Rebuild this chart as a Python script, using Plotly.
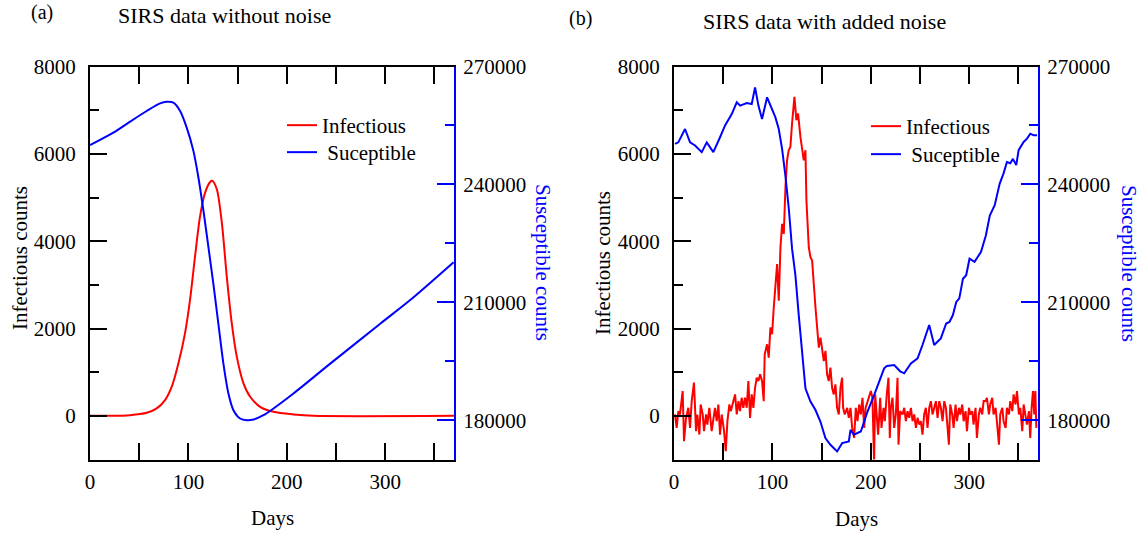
import plotly.graph_objects as go

# ---------------- data ----------------
# Panel (a): SIRS data without noise
inf_days_a = [0, 17, 40.7, 57.6, 67.8, 76.3, 83.1, 89.9, 96.6, 101.7, 106.8, 111.9, 117, 122.1,
              124.4, 128.9, 134, 139, 144.1, 149.2, 156, 162.8, 172.9, 186.5, 206.8, 227, 370]
inf_a = [0, 0, 16, 69, 170, 361, 667, 1205, 1894, 2660, 3655, 4575, 5113, 5356,
         5380, 5189, 4423, 3195, 2124, 1356, 745, 437, 207, 92, 31, 0, 0]

sus_days_a = [0, 23.7, 40.7, 57.6, 71.2, 78, 84.8, 91.6, 98.3, 105.1, 110.2, 115.3, 120.4, 125.4,
              130.5, 135.6, 140.7, 145.8, 152.6, 159.4, 166.2, 176.3, 186.5, 206.8, 244.2, 295,
              328.9, 369.6]
sus_a = [250000, 253170, 255970, 258680, 260630, 261040, 260790, 258680, 254440, 248530, 241750,
         233300, 223980, 214690, 204540, 194390, 186780, 182540, 180430, 180000, 180170, 181270,
         182970, 186780, 194390, 204540, 211290, 220180]

# Panel (b): SIRS data with added noise
inf_days_b = [1.0, 2.7, 4.4, 6.1, 8.8, 10.2, 12.2, 14.6, 16.3, 18.0, 20.3, 22.4, 23.7, 25.8, 27.1,
              29.2, 30.5, 32.6, 33.9, 35.9, 38.3, 40.0, 41.7, 43.4, 45.1, 46.8, 48.5, 50.9, 52.6,
              54.3, 56.3, 57.7, 59.7, 62.1, 63.8, 65.5, 67.1, 68.8, 70.5, 72.2, 73.9, 75.6, 77.3,
              79.0, 80.7, 82.4, 84.1, 85.8, 87.5,
              89.5, 91.2, 92.2, 94.6, 96.3, 98.0, 99.7, 101.4, 103.1, 104.8, 106.5, 108.2, 109.9,
              111.6, 113.3, 114.9, 116.6, 118.3, 120.0, 122.4, 124.4, 126.1, 128.5, 130.2, 131.9,
              133.6, 134.6, 137.0, 138.7, 140.4, 142.1, 143.8, 145.5, 147.2, 148.9, 150.6, 152.3,
              154.0, 155.6, 157.3, 159.0, 160.7, 162.4, 164.1, 165.8, 167.5, 169.2, 170.9, 171.9,
              173.6, 176.0, 177.7, 179.4, 181.1,
              183.1, 184.8, 186.5, 188.2, 189.9, 191.6, 193.3, 194.8, 196.7, 198.4, 200.1, 201.7,
              203.4, 204.5, 206.2, 207.5, 209.6, 210.9, 213.0, 214.3, 216.3, 218.0, 219.4, 220.4,
              222.1, 223.8, 225.5, 227.2, 228.2, 229.9, 232.3, 234.0, 235.7, 237.4, 239.1, 240.8,
              242.5, 244.2, 245.9, 247.6, 249.3, 250.9, 252.6, 254.3, 256.0, 257.7, 259.4, 261.1,
              262.8, 264.5, 266.2, 267.9, 269.6, 271.3, 273.0, 274.7, 276.4, 278.1,
              279.4, 280.8, 282.8, 284.2, 286.2, 287.6, 289.6, 291.0, 293.0, 294.4, 296.4, 297.8,
              299.8, 301.1, 303.2, 304.5, 306.5, 307.9, 309.9, 311.3, 313.3, 314.7, 316.7, 318.1,
              320.1, 321.4, 323.5, 324.8, 326.9, 328.2, 330.3, 331.6, 333.7, 335.0, 337.1, 338.4,
              340.5, 341.8, 343.9, 345.2, 347.2, 348.6, 350.6, 352.0, 354.0, 355.4, 357.4, 358.8,
              360.8, 362.1, 363.5, 364.9, 366.2, 367.3, 368.3]
inf_b = [31, -276, 107, 31, 567, -582, -46, 184, -276, 337, 760, -352, 31, -429, 260,
         31, -352, 31, -199, 184, -352, -46, 184, -123, 260, -429, 31, -352, -812,
         -123, 260, 107, 260, 490, 31, 337, 107, 414, 184, 414, 184, 797, -46,
         490, 184, 643, 873, 797, 950,
         797, 337, 1409, 1639, 1333, 2022, 1869, 2482, 2941, 3478, 2635, 3861, 4397,
         4167, 5239, 5852, 6082, 6159, 6695, 7308, 6771, 6925, 6388, 6082, 5852,
         6082, 4933, 3861, 3631, 3554, 2865, 2482, 2022, 1563, 1792, 1486, 1256,
         1486, 950, 797, 1103, 643, 490, 720, 184, 31, 643, 873, 184,
         31, 184, -46, 184, -276,
         -506, 184, -123, 260, 31, 414, -276, 184, 337, 490, 567, 414,
         -1042, 490, 31, -429, 414, -276, 184, -123, 490, 873, -506, 184,
         414, -276, 31, 873, -659, 107, 31, 184, -123, 107, -46, 184,
         -123, 31, -276, -46, -199, -123, -429, 31, 184, -276, 184, 337,
         31, 184, 337, -46, 337, 184, -123, 337, 184, -276,
         -659, 260, 31, -276, 260, -123, 184, 31, 260, -123, 107, -352,
         184, 31, 107, -199, 184, -506, 31, 184, 31, 337, 337, 414,
         31, 260, 414, 31, 184, -123, -659, 31, 184, -123, -276, 184,
         31, 337, 107, 490, 260, 567, 31, 184, -352, 260, 31, -199,
         107, -506, 184, 567, 31, 567, -276]

sus_days_b = [1.0, 4.4, 11.2, 16.3, 21.4, 28.2, 33.3, 40.0, 46.8, 51.9, 58.7, 63.8, 67.2, 74.0,
              79.0, 82.4, 85.8, 89.5, 94.6, 99.7, 103.0, 106.5, 109.9, 113.2, 116.7, 120.0, 123.4,
              126.8, 130.2, 133.6, 138.7, 143.7, 148.8, 153.9, 159.0, 165.8, 170.9, 177.7, 179.4,
              182.8, 189.9, 196.7, 203.5, 208.5, 213.6, 216.4, 223.8, 229.9, 234.0, 240.8, 247.6,
              252.6, 259.4, 264.5, 271.2, 276.7, 280.0, 283.5, 286.9, 290.0, 293.7, 297.0, 300.4,
              305.5, 312.0, 317.0, 321.0, 326.0, 331.0, 335.0, 338.4, 341.8, 344.5, 347.9, 350.3,
              355.4, 358.8, 362.2, 365.6, 369.0]
sus_b = [250300, 250700, 254100, 250700, 249900, 248200, 250700, 248200, 252000, 255000, 257900,
         260900, 260050, 260700, 260450, 264700, 260050, 256650, 262150, 259190, 257100, 254100,
         249000, 242300, 233800, 223650, 216900, 206750, 198270, 188100, 184750, 182640, 179670,
         175430, 173750, 172060, 174160, 174590, 177560, 176300, 177130, 182200, 186450, 189800,
         193200, 193800, 194060, 192440, 191930, 194470, 195740, 199140, 204210, 199140, 200800,
         204600, 205000, 206750, 210100, 211000, 216000, 216900, 221100, 220300, 222800, 227000,
         232100, 234700, 240150, 242800, 245700, 245400, 246500, 244900, 248700, 250800, 251650,
         252900, 252500, 252500]

# ---------------- figure ----------------
W, H = 1148, 536
FONT = "Liberation Serif, Times New Roman, serif"
RED, BLUE = "#FF0000", "#0000FF"


def px(x):
    return x / W


def py(y):
    return (H - y) / H


fig = go.Figure()
fig.add_trace(go.Scatter(x=inf_days_a, y=inf_a, mode="lines", name="Infectious",
                         line=dict(color=RED, width=2, shape="spline", smoothing=0.8),
                         xaxis="x", yaxis="y", legend="legend"))
fig.add_trace(go.Scatter(x=sus_days_a, y=sus_a, mode="lines", name="\u00a0Suceptible",
                         line=dict(color=BLUE, width=2, shape="spline", smoothing=0.8),
                         xaxis="x", yaxis="y2", legend="legend2"))
fig.add_trace(go.Scatter(x=inf_days_b, y=inf_b, mode="lines", name="Infectious",
                         line=dict(color=RED, width=2),
                         xaxis="x2", yaxis="y3", legend="legend3"))
fig.add_trace(go.Scatter(x=sus_days_b, y=sus_b, mode="lines", name="\u00a0Suceptible",
                         line=dict(color=BLUE, width=2),
                         xaxis="x2", yaxis="y4", legend="legend4"))

tickfont = dict(family=FONT, size=21, color="black")
ydom = [py(459.5), py(66.5)]


def xaxis(dom, anchor):
    return dict(domain=dom, anchor=anchor, range=[0, 370], tick0=0, dtick=100,
                ticks="inside", ticklen=17, tickwidth=2, tickcolor="black",
                showline=True, linecolor="black", linewidth=2, mirror="allticks",
                minor=dict(dtick=50, ticks="inside", ticklen=9, tickwidth=2, tickcolor="black"),
                showgrid=False, zeroline=False, tickfont=tickfont, ticklabelstandoff=2,
                automargin=False)


def yleft(anchor):
    return dict(domain=ydom, anchor=anchor, range=[-1000, 8000], tick0=0, dtick=2000,
                ticks="inside", ticklen=17, tickwidth=2, tickcolor="black",
                showline=True, linecolor="black", linewidth=2,
                minor=dict(dtick=1000, ticks="inside", ticklen=9, tickwidth=2, tickcolor="black"),
                showgrid=False, zeroline=False, tickfont=tickfont, tickformat="d",
                ticklabelstandoff=8, automargin=False)


def yright(overlay, anchor):
    return dict(overlaying=overlay, anchor=anchor, side="right", range=[170000, 270000],
                tick0=180000, dtick=30000, ticks="inside", ticklen=17, tickwidth=2,
                tickcolor=BLUE, showline=True, linecolor=BLUE, linewidth=2,
                minor=dict(dtick=15000, ticks="inside", ticklen=9, tickwidth=2, tickcolor=BLUE),
                showgrid=False, zeroline=False, tickfont=tickfont, tickformat="d",
                ticklabelstandoff=3, automargin=False)


legfont = dict(family=FONT, size=21, color="black")


def leg(x, y):
    return dict(x=px(x), y=py(y), xanchor="left", yanchor="top", font=legfont,
                bgcolor="rgba(0,0,0,0)", tracegroupgap=0, borderwidth=0)


fig.update_layout(
    template="none",
    width=W, height=H, autosize=False,
    margin=dict(l=0, r=0, t=0, b=0, pad=0),
    paper_bgcolor="white", plot_bgcolor="white",
    xaxis=xaxis([px(90), px(454)], "y"),
    yaxis=yleft("x"),
    yaxis2=yright("y", "x"),
    xaxis2=xaxis([px(674), px(1038)], "y3"),
    yaxis3=yleft("x2"),
    yaxis4=yright("y3", "x2"),
    legend=leg(282, 105),
    legend2=leg(282, 132),
    legend3=leg(866, 106),
    legend4=leg(866, 134),
    showlegend=True,
)

ann = []


def txt(s, x, y, size=21, color="black", angle=0):
    ann.append(dict(text=s, x=px(x), y=py(y), xref="paper", yref="paper", showarrow=False,
                    xanchor="center", yanchor="middle", textangle=angle,
                    font=dict(family=FONT, size=size, color=color)))


txt("(a)", 41.5, 13, size=20)
txt("SIRS data without noise", 224.5, 15, size=22)
txt("(b)", 580, 19, size=20)
txt("SIRS data with added noise", 824, 21, size=22)
txt("Infectious counts", 20, 258, angle=-90)
txt("Infectious counts", 603, 263, angle=-90)
txt("Susceptible counts", 543, 262, color=BLUE, angle=90)
txt("Susceptible counts", 1129, 263, color=BLUE, angle=90)
txt("Days", 272, 518)
txt("Days", 856, 519)
fig.update_layout(annotations=ann)

fig.write_html("out.html", config={"displayModeBar": False},
               post_script="document.body.style.margin='0';")
